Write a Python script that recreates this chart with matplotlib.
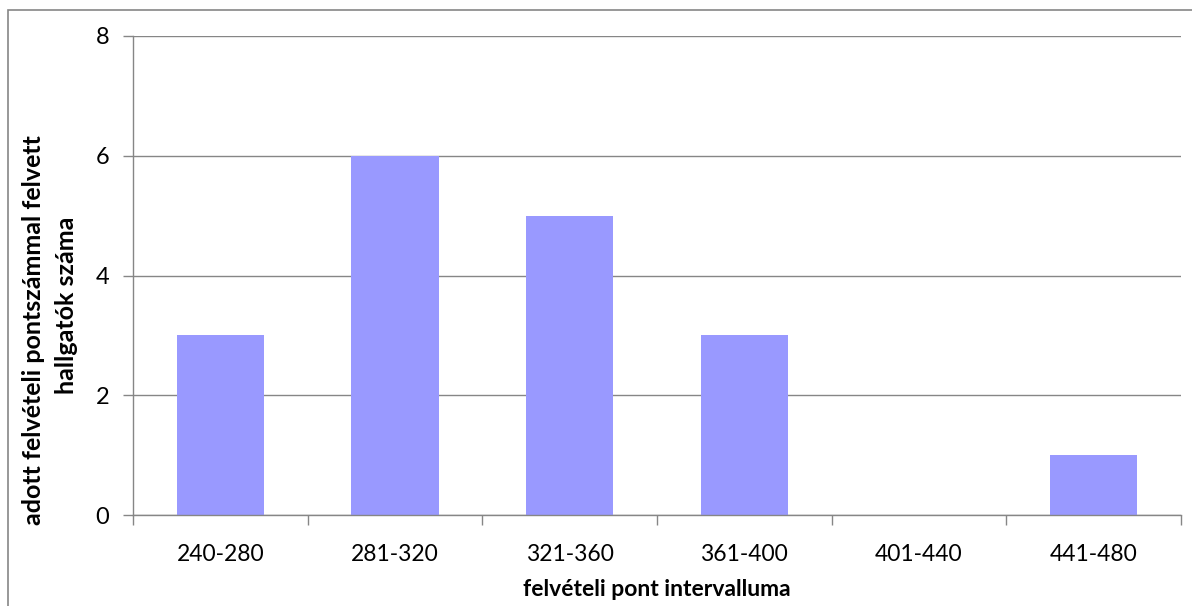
import matplotlib
matplotlib.use("Agg")
import matplotlib.pyplot as plt
from matplotlib.patches import Rectangle

categories = ["240-280", "281-320", "321-360", "361-400", "401-440", "441-480"]
values = [3, 6, 5, 3, 0, 1]
yticks = [0, 2, 4, 6, 8]
ylabel_lines = ["adott felvételi pontszámmal felvett", "hallgatók száma"]
xlabel = "felvételi pont intervalluma"

plt.rcParams['font.family'] = ['Lato', 'DejaVu Sans']

W, H = 1192, 606
fig = plt.figure(figsize=(W / 100, H / 100), dpi=100)
ax = fig.add_axes([133 / W, 1 - 515 / H, (1181 - 133) / W, (515 - 36) / H])

x = list(range(len(categories)))
ax.bar(x, values, width=0.5, color='#9999FF', zorder=2)
ax.set_xlim(-0.5, len(categories) - 0.5)
ax.set_ylim(0, 8)
ax.set_yticks(yticks)
ax.yaxis.grid(True, color='#868686', linewidth=1.0, zorder=0)
ax.set_xticks(x)
ax.set_xticklabels(categories)
ax.set_xticks([i - 0.5 for i in range(len(categories) + 1)], minor=True)
ax.tick_params(axis='x', which='major', length=0, pad=21, labelsize=16.5)
ax.tick_params(axis='x', which='minor', length=7, color='#868686', width=1)
ax.tick_params(axis='y', length=7, color='#868686', width=1, labelsize=17, pad=10)

for s in ['top', 'right']:
    ax.spines[s].set_visible(False)
for s in ['left', 'bottom']:
    ax.spines[s].set_color('#868686')
    ax.spines[s].set_linewidth(1)

ax.set_xlabel(xlabel, fontsize=16.5, fontweight='bold', labelpad=10)

fig.text(34 / W, 1 - 330 / H, ylabel_lines[0], rotation=90, ha='center', va='center',
         fontsize=18, fontweight='bold')
fig.text(66 / W, 1 - 305 / H, ylabel_lines[1], rotation=90, ha='center', va='center',
         fontsize=18, fontweight='bold')

fig.patches.append(Rectangle((8 / W, -0.1), 1.2, 1 - 10 / H + 0.1, transform=fig.transFigure,
                             fill=False, edgecolor='#868686', linewidth=1.2))

fig.savefig("out.png", dpi=100)
